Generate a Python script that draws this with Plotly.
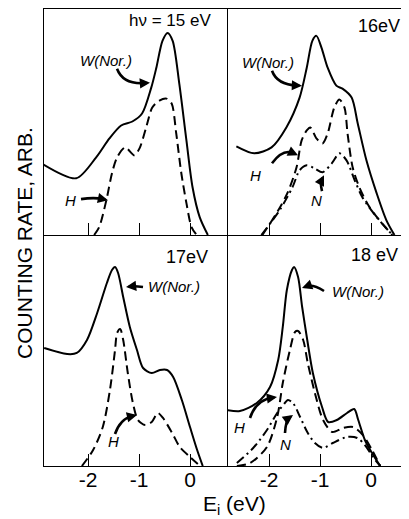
import math
import plotly.graph_objects as go

# ---------------- data (E_i in eV, counting rate in arb. units) ----------------
# hv = 15 eV
w15_e = [-2.88, -2.23, -1.84, -1.58, -1.35, -1.13, -0.94, -0.76, -0.66, -0.54, -0.44, -0.34, -0.21, -0.07, 0.05, 0.19, 0.35]
w15_y = [71, 57, 78, 97, 110, 114, 122, 148, 168, 195, 203, 195, 152, 95, 48, 18, 0]
h15_e = [-1.88, -1.78, -1.64, -1.53, -1.43, -1.27, -1.09, -0.99, -0.86, -0.74, -0.60, -0.46, -0.36, -0.27, -0.17, -0.07, 0.03, 0.13]
h15_y = [0, 8, 35, 62, 78, 88, 80, 87, 108, 128, 135, 137, 132, 102, 62, 32, 8, 0]

# hv = 16 eV
w16_e = [-2.64, -2.29, -1.95, -1.66, -1.40, -1.26, -1.15, -1.07, -0.97, -0.85, -0.68, -0.56, -0.38, -0.26, -0.09, 0.11, 0.30, 0.46]
w16_y = [89, 82, 88, 108, 138, 168, 195, 200, 188, 168, 150, 147, 138, 112, 75, 42, 15, 0]
h16_e = [-2.13, -1.85, -1.64, -1.46, -1.36, -1.26, -1.19, -1.07, -0.95, -0.85, -0.72, -0.62, -0.52, -0.46, -0.36, -0.23, -0.03, 0.21, 0.42]
h16_y = [0, 22, 42, 68, 95, 105, 108, 97, 92, 102, 128, 136, 128, 102, 68, 48, 28, 12, 0]
n16_e = [-2.15, -1.79, -1.54, -1.40, -1.26, -1.11, -0.95, -0.77, -0.62, -0.48, -0.32, -0.17, 0.11, 0.42]
n16_y = [0, 25, 48, 65, 70, 67, 63, 72, 82, 75, 55, 38, 18, 0]

# hv = 17 eV
w17_e = [-2.86, -2.41, -2.22, -2.02, -1.82, -1.63, -1.53, -1.47, -1.41, -1.31, -1.18, -1.04, -0.92, -0.75, -0.59, -0.45, -0.33, -0.16, 0.0, 0.14, 0.25]
w17_y = [118, 112, 113, 126, 153, 183, 196, 199, 193, 169, 139, 116, 98, 93, 96, 96, 89, 66, 39, 16, 0]
h17_e = [-2.12, -1.90, -1.71, -1.57, -1.47, -1.43, -1.37, -1.31, -1.22, -1.12, -1.02, -0.88, -0.75, -0.63, -0.53, -0.35, -0.20, 0.0, 0.20]
h17_y = [0, 16, 39, 76, 116, 133, 137, 126, 93, 63, 46, 41, 44, 53, 48, 33, 19, 9, 0]

# hv = 18 eV
w18_e = [-2.82, -2.57, -2.24, -1.98, -1.82, -1.73, -1.65, -1.55, -1.51, -1.43, -1.35, -1.25, -1.14, -0.96, -0.84, -0.67, -0.47, -0.33, -0.25, -0.12, 0.02, 0.18]
w18_y = [56, 55, 63, 79, 106, 139, 176, 196, 199, 189, 159, 126, 93, 59, 44, 46, 53, 57, 46, 26, 13, 0]
h18_e = [-2.63, -2.37, -2.04, -1.84, -1.73, -1.59, -1.49, -1.43, -1.33, -1.24, -1.10, -0.94, -0.76, -0.55, -0.35, -0.16, 0.02, 0.18]
h18_y = [0, 3, 19, 49, 83, 116, 134, 135, 126, 103, 73, 46, 34, 38, 39, 31, 16, 0]
n18_e = [-2.63, -2.31, -2.04, -1.84, -1.69, -1.63, -1.53, -1.39, -1.25, -1.10, -0.94, -0.75, -0.47, -0.27, -0.12, 0.04, 0.18]
n18_y = [3, 18, 36, 53, 63, 66, 63, 49, 34, 23, 18, 23, 29, 28, 21, 9, 0]

tick_vals = [-2, -1, 0]
tick_text = ["-2", "-1", "0"]

# ---------------- figure ----------------
SOLID = dict(color="black", width=2, dash="solid", shape="spline", smoothing=0.8)
DASH = dict(color="black", width=2, dash="9px,5px", shape="spline", smoothing=0.8)
DASHDOT = dict(color="black", width=2, dash="9px,4px,2px,4px", shape="spline", smoothing=0.8)

fig = go.Figure()

def add(xs, ys, line, xa, ya):
    fig.add_trace(go.Scatter(x=xs, y=ys, mode="lines", line=line, xaxis=xa, yaxis=ya,
                             showlegend=False, hoverinfo="skip"))

add(w15_e, w15_y, SOLID, "x", "y")
add(h15_e, h15_y, DASH, "x", "y")
add(w16_e, w16_y, SOLID, "x2", "y2")
add(h16_e, h16_y, DASH, "x2", "y2")
add(n16_e, n16_y, DASHDOT, "x2", "y2")
add(w17_e, w17_y, SOLID, "x3", "y3")
add(h17_e, h17_y, DASH, "x3", "y3")
add(w18_e, w18_y, SOLID, "x4", "y4")
add(h18_e, h18_y, DASH, "x4", "y4")
add(n18_e, n18_y, DASHDOT, "x4", "y4")

XM = 0.5041
YM = 0.5055
LEFT_RANGE = [-2.863, 0.745]
RIGHT_RANGE = [-2.804, 0.745]

NARROW = "Liberation Sans Narrow, Arial Narrow, Liberation Sans, sans-serif"
FONT = "Liberation Sans, Arial, sans-serif"
tickfont = dict(family=NARROW, size=21, color="black")

def xax(domain, anchor, rng, labels):
    return dict(domain=domain, anchor=anchor, range=rng, showline=True, linecolor="black",
                linewidth=1, mirror=not labels, ticks="inside", ticklen=12, tickwidth=1,
                tickcolor="black", tickvals=tick_vals, ticktext=tick_text,
                showticklabels=labels, tickfont=tickfont, ticklabelstandoff=-5,
                showgrid=False, zeroline=False, fixedrange=True)

def yax(domain, anchor, rng):
    return dict(domain=domain, anchor=anchor, range=rng, showline=True, linecolor="black",
                linewidth=1, ticks="", showticklabels=False, showgrid=False,
                zeroline=False, fixedrange=True)

# the page body has an 8px margin, so the figure is sized to fit the 409x519 window
fig.update_layout(
    width=401, height=511,
    margin=dict(l=36, r=0, t=1, b=53),
    paper_bgcolor="white", plot_bgcolor="white",
    xaxis=xax([0, XM], "y", LEFT_RANGE, False),
    yaxis=yax([YM, 1], "x", [0, 227]),
    xaxis2=xax([XM, 1], "y2", RIGHT_RANGE, False),
    yaxis2=yax([YM, 1], "x2", [0, 227]),
    xaxis3=xax([0, XM], "y3", LEFT_RANGE, True),
    yaxis3=yax([0, YM], "x3", [0, 231]),
    xaxis4=xax([XM, 1], "y4", RIGHT_RANGE, True),
    yaxis4=yax([0, YM], "x4", [0, 231]),
    showlegend=False,
)

# panel geometry used to place the hand-drawn pointer arrows (page pixels -> panel units)
PANELS = {
    1: ("x", "y", 190.0, 235.0),
    2: ("x2", "y2", 371.0, 235.0),
    3: ("x3", "y3", 190.0, 466.0),
    4: ("x4", "y4", 371.0, 466.0),
}
PX_PER_EV = 51.0

def to_data(p, px, py):
    xr, yr, x0, base = PANELS[p]
    return (px - x0) / PX_PER_EV, base - py

ann = []
shapes = []

def text(t, p, px, py, size=15, anchor="center", italic=False, family=FONT):
    xr, yr, _, _ = PANELS[p]
    x, y = to_data(p, px, py)
    s = f"<i>{t}</i>" if italic else t
    ann.append(dict(text=s, x=x, y=y, xref=xr, yref=yr, showarrow=False, xanchor=anchor,
                    yanchor="middle", font=dict(family=family, size=size, color="black")))

def pointer(p, tail, ctrl, head):
    xr, yr, _, _ = PANELS[p]
    dx, dy = ctrl[0] - head[0], ctrl[1] - head[1]
    n = math.hypot(dx, dy) or 1.0
    # body stops a little before the tip so the head stays sharp
    stop = (head[0] + dx / n * 5, head[1] + dy / n * 5)
    t = to_data(p, *tail)
    c = to_data(p, *ctrl)
    s = to_data(p, *stop)
    h = to_data(p, *head)
    shapes.append(dict(type="path", xref=xr, yref=yr, layer="above",
                       path=f"M {t[0]:.4f},{t[1]:.2f} Q {c[0]:.4f},{c[1]:.2f} {s[0]:.4f},{s[1]:.2f}",
                       line=dict(color="black", width=2.6)))
    ann.append(dict(text="", x=h[0], y=h[1], xref=xr, yref=yr, axref="pixel", ayref="pixel",
                    ax=dx / n * 9, ay=dy / n * 9, showarrow=True, arrowhead=2,
                    arrowsize=0.85, arrowwidth=2.4, arrowcolor="black"))

# panel 15 eV
text("hν = 15 eV", 1, 213, 20, size=17, anchor="right", family=NARROW)
text("W(Nor.)", 1, 106, 60, italic=True)
pointer(1, (117, 68), (123, 84), (150, 82))
text("H", 1, 70, 200, italic=True)
pointer(1, (81, 199), (94, 197), (108, 200))

# panel 16 eV
text("16eV", 2, 402, 25, size=18, anchor="right", family=NARROW)
text("W(Nor.)", 2, 268, 62, italic=True)
pointer(2, (272, 70), (277, 84), (302, 85))
text("H", 2, 256, 175, italic=True)
pointer(2, (272, 163), (283, 148), (298, 155))
text("N", 2, 316, 200, italic=True)
pointer(2, (322, 191), (320, 183), (324, 175))

# panel 17 eV
text("17eV", 3, 210, 257, size=18, anchor="right", family=NARROW)
text("W(Nor.)", 3, 146, 287, anchor="left", italic=True)
pointer(3, (143, 287), (135, 286), (126, 287))
text("H", 3, 113, 442, italic=True)
pointer(3, (115, 434), (120, 419), (137, 415))

# panel 18 eV
text("18 eV", 4, 400, 255, size=18, anchor="right", family=NARROW)
text("W(Nor.)", 4, 330, 292, anchor="left", italic=True)
pointer(4, (324, 291), (313, 284), (302, 288))
text("H", 4, 240, 428, italic=True)
pointer(4, (250, 418), (256, 400), (277, 397))
text("N", 4, 285, 445, italic=True)
pointer(4, (285, 433), (286, 420), (293, 415))

# axis titles
ann.append(dict(text="COUNTING RATE, ARB.", x=-0.052, y=0.488, xref="paper", yref="paper",
                showarrow=False, textangle=-90, xanchor="center", yanchor="middle",
                font=dict(family=NARROW, size=21, color="black")))
ann.append(dict(text="E<sub>i</sub> (eV)", x=0.523, y=-0.0853, xref="paper", yref="paper",
                showarrow=False, xanchor="center", yanchor="middle",
                font=dict(family=NARROW, size=21, color="black")))

fig.update_layout(annotations=ann, shapes=shapes)
fig.write_html("out.html")
